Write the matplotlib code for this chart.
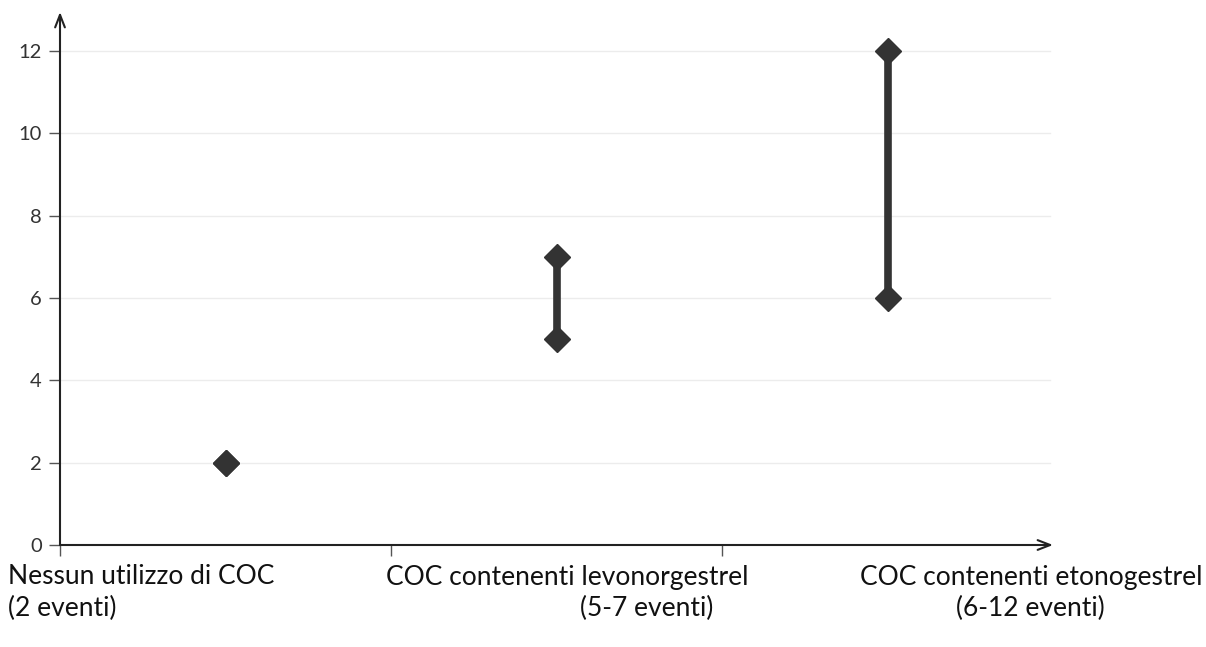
import matplotlib.pyplot as plt

# --- Data ---
categorie = ['Nessun utilizzo di COC', 'COC contenenti levonorgestrel', 'COC contenenti etonogestrel']
eventi = ['(2 eventi)', '(5-7 eventi)', '(6-12 eventi)']
valore_min = [2, 5, 6]
valore_max = [2, 7, 12]
y_ticks = [0, 2, 4, 6, 8, 10, 12]

W, H = 1206, 647
plt.rcParams['font.family'] = ['Lato', 'DejaVu Sans']

fig = plt.figure(figsize=(W / 100, H / 100), dpi=100)
ax = fig.add_axes([60 / W, 102 / H, (1053 - 60) / W, (545 - 12) / H])

ax.set_xlim(0, 3)
ax.set_ylim(0, 12.95)

# gridlines
for y in y_ticks[1:]:
    ax.plot([0, 2.99], [y, y], color='#ececec', linewidth=1, zorder=0)

# range bars
for i, (lo, hi) in enumerate(zip(valore_min, valore_max)):
    x = i + 0.5
    if hi > lo:
        ax.plot([x, x], [lo, hi], color='#333333', linewidth=5.5, solid_capstyle='butt', zorder=2)
    ax.plot([x, x], [lo, hi], linestyle='none', marker='D', markersize=13,
            color='#333333', zorder=3)

# axes with arrows
for s in ax.spines.values():
    s.set_visible(False)
ax.annotate('', xy=(0, 1.0), xytext=(0, 0), xycoords='axes fraction',
            arrowprops=dict(arrowstyle='->,head_length=0.9,head_width=0.35', color='#222222', lw=1.5,
                            shrinkA=0, shrinkB=0))
ax.annotate('', xy=(1.0, 0), xytext=(0, 0), xycoords='axes fraction',
            arrowprops=dict(arrowstyle='->,head_length=0.9,head_width=0.35', color='#222222', lw=1.5,
                            shrinkA=0, shrinkB=0))

ax.set_yticks(y_ticks)
ax.set_yticklabels([str(v) for v in y_ticks], fontsize=14.5, color='#333333')
ax.tick_params(axis='y', length=8, width=1, color='#555555', pad=5)
ax.set_xticks([0, 1, 2])
ax.set_xticklabels([])
ax.tick_params(axis='x', length=8, width=1, color='#555555', direction='out')

# category labels below the axis
pos_riga1 = [(8, 'left'), (386, 'left'), (860, 'left')]
pos_riga2 = [(8, 'left'), (713, 'right'), (1105, 'right')]
for cat, ev, (x1, ha1), (x2, ha2) in zip(categorie, eventi, pos_riga1, pos_riga2):
    fig.text(x1 / W, 1 - 577 / H, cat, fontsize=19, ha=ha1, va='center', color='#111111')
    fig.text(x2 / W, 1 - 608 / H, ev, fontsize=19, ha=ha2, va='center', color='#111111')

fig.savefig('out.png', dpi=100)
